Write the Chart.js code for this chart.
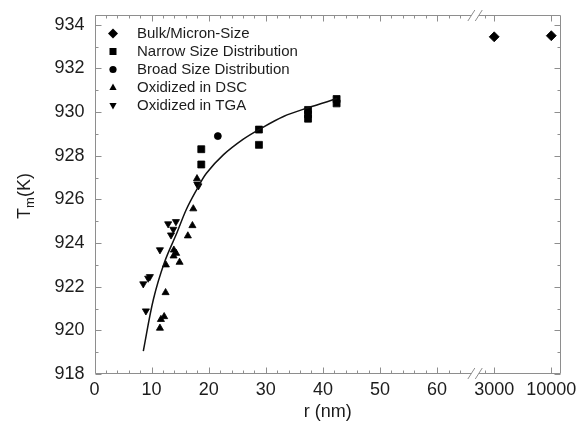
<!DOCTYPE html>
<html><head><meta charset="utf-8">
<script src="https://cdn.jsdelivr.net/npm/chart.js@4/dist/chart.umd.min.js"></script>
<style>html,body{margin:0;padding:0;background:#fff;}canvas{display:block;}</style>
</head><body>
<canvas id="c" width="580" height="427"></canvas>
<script>
// ---- data ----
const bulkR = [3000, 10000];
const bulkT = [933.45, 933.5];
const narrowR = [18.7, 18.7, 28.8, 28.8, 37.4, 37.4, 37.4, 42.4, 42.4];
const narrowT = [928.3, 927.6, 929.2, 928.5, 930.1, 929.9, 929.7, 930.6, 930.4];
const broadR = [21.6];
const broadT = [928.9];
const dscR = [11.46, 11.63, 12.2, 12.45, 12.5, 14.9, 13.85, 14.3, 13.9, 16.35, 17.15, 17.3, 17.95];
const dscT = [920.1, 920.5, 920.63, 921.73, 923.0, 923.12, 923.41, 923.53, 923.68, 924.33, 924.8, 925.57, 926.95];
const tgaR = [8.54, 9.4, 9.7, 9.0, 11.46, 12.9, 14.26, 13.8, 13.4, 18.0, 18.2];
const tgaT = [922.13, 922.39, 922.46, 920.89, 923.69, 924.88, 924.98, 924.63, 924.37, 926.7, 926.62];
const fitR = [8.55, 10.3, 12.3, 14.4, 16.1, 17.9, 19.6, 22.6, 26.0, 28.8, 33.1, 37.4, 42.5];
const fitT = [919.05, 921.4, 923.15, 924.45, 925.55, 926.45, 927.2, 928.05, 928.75, 929.2, 929.8, 930.2, 930.62];
const xTickValues = [0, 10, 20, 30, 40, 50, 60, 3000, 10000];
const xTickLabels = ['0', '10', '20', '30', '40', '50', '60', '3000', '10000'];
const yTickValues = [918, 920, 922, 924, 926, 928, 930, 932, 934];
const legendLabels = ['Bulk/Micron-Size', 'Narrow Size Distribution', 'Broad Size Distribution', 'Oxidized in DSC', 'Oxidized in TGA'];

// broken x axis: linear 0..65 nm, then a compressed log segment for 3000..10000 nm
function xPos(r) {
  if (r <= 65) return r;
  return 70 + (Math.log10(r) - Math.log10(3000)) / (Math.log10(10000) - Math.log10(3000)) * 10;
}
const pts = (R, T) => R.map((r, i) => ({x: xPos(r), y: T[i]}));

const FONT = 'Liberation Sans, Arial, Helvetica, sans-serif';
const TXT = '#1c1c1c';
const FRAME = '#8e8e8e';

function marker(ctx, style, cx, cy) {
  ctx.beginPath();
  if (style === 'diamond') {
    ctx.moveTo(cx, cy - 5); ctx.lineTo(cx + 5, cy); ctx.lineTo(cx, cy + 5); ctx.lineTo(cx - 5, cy);
  } else if (style === 'square') {
    ctx.rect(cx - 3.5, cy - 3.5, 7, 7);
  } else if (style === 'circle') {
    ctx.arc(cx, cy, 3.6, 0, Math.PI * 2);
  } else if (style === 'up') {
    ctx.moveTo(cx, cy - 4); ctx.lineTo(cx + 3.6, cy + 2.6); ctx.lineTo(cx - 3.6, cy + 2.6);
  } else {
    ctx.moveTo(cx, cy + 4); ctx.lineTo(cx + 3.6, cy - 2.6); ctx.lineTo(cx - 3.6, cy - 2.6);
  }
  ctx.closePath(); ctx.fill();
}

const framePlugin = {
  id: 'frame',
  beforeDatasetsDraw(chart) {
    const ctx = chart.ctx, x = chart.scales.x, y = chart.scales.y;
    const {left: L, right: R, top: T, bottom: B} = chart.chartArea;
    const l = Math.round(L) + 0.5, r = Math.round(R) - 0.5, t = Math.round(T) + 0.5, b = Math.round(B) - 0.5;
    const bA = x.getPixelForValue(66.0), bB = x.getPixelForValue(67.3);
    ctx.save();
    ctx.strokeStyle = FRAME; ctx.lineWidth = 1;
    ctx.beginPath();
    ctx.moveTo(l, t); ctx.lineTo(l, b);
    ctx.moveTo(r, t); ctx.lineTo(r, b);
    ctx.moveTo(l, b); ctx.lineTo(bA, b); ctx.moveTo(bB, b); ctx.lineTo(r, b);
    ctx.moveTo(l, t); ctx.lineTo(bA, t); ctx.moveTo(bB, t); ctx.lineTo(r, t);
    // break marks
    [bA, bB].forEach(px => {
      [b, t].forEach(py => { ctx.moveTo(px - 3.5, py + 5.5); ctx.lineTo(px + 3.5, py - 5.5); });
    });
    // y ticks (inward, both sides)
    for (let v = 918; v <= 934; v++) {
      const py = Math.round(y.getPixelForValue(v)) + 0.5;
      const len = v % 2 === 0 ? 6 : 3;
      ctx.moveTo(l, py); ctx.lineTo(l + len, py);
      ctx.moveTo(r, py); ctx.lineTo(r - len, py);
    }
    // x ticks, left segment
    for (let v = 0; v <= 64; v += 2) {
      const px = Math.round(x.getPixelForValue(v)) + 0.5;
      const len = v % 10 === 0 ? 6 : 3;
      ctx.moveTo(px, b); ctx.lineTo(px, b - len);
      ctx.moveTo(px, t); ctx.lineTo(px, t + len);
    }
    // x ticks, right segment
    [[68.4, 3], [xPos(3000), 6], [xPos(10000), 6]].forEach(([v, len]) => {
      const px = Math.round(x.getPixelForValue(v)) + 0.5;
      ctx.moveTo(px, b); ctx.lineTo(px, b - len);
      ctx.moveTo(px, t); ctx.lineTo(px, t + len);
    });
    ctx.stroke();
    ctx.restore();
  },
  afterDraw(chart) {
    const ctx = chart.ctx;
    ctx.save();
    // legend
    const styles = ['diamond', 'square', 'circle', 'up', 'down'];
    ctx.font = '15px ' + FONT;
    ctx.textBaseline = 'middle';
    legendLabels.forEach((lab, i) => {
      const cy = 33.5 + i * 18;
      ctx.fillStyle = '#000';
      marker(ctx, styles[i], 113, cy);
      ctx.fillStyle = TXT;
      ctx.fillText(lab, 137, cy + 0.5);
    });
    // y-axis title with subscript
    ctx.translate(24, 196);
    ctx.rotate(-Math.PI / 2);
    ctx.fillStyle = TXT;
    ctx.textBaseline = 'alphabetic';
    const big = '18px ' + FONT, small = '13px ' + FONT;
    ctx.font = big; const wT = ctx.measureText('T').width; const wK = ctx.measureText('(K)').width;
    ctx.font = small; const wm = ctx.measureText('m').width;
    let x0 = -(wT + wm + wK) / 2;
    ctx.font = big; ctx.fillText('T', x0, 6);
    ctx.font = small; ctx.fillText('m', x0 + wT, 10);
    ctx.font = big; ctx.fillText('(K)', x0 + wT + wm, 6);
    ctx.restore();
  }
};

const mk = (label, data, style, radius, rotation) => ({
  label, data, pointStyle: style, pointRadius: radius, pointRotation: rotation || 0,
  backgroundColor: '#000', borderColor: '#000', pointBorderWidth: 0.8, showLine: false
});

new Chart(document.getElementById('c'), {
  type: 'scatter',
  data: {
    datasets: [
      {label: 'fit', data: pts(fitR, fitT), showLine: true, pointRadius: 0, borderColor: '#111',
       borderWidth: 1.5, tension: 0.35, fill: false},
      mk(legendLabels[0], pts(bulkR, bulkT), 'rectRot', 5),
      mk(legendLabels[1], pts(narrowR, narrowT), 'rect', 4.9),
      mk(legendLabels[2], pts(broadR, broadT), 'circle', 3.5),
      mk(legendLabels[3], pts(dscR, dscT), 'triangle', 4.1),
      mk(legendLabels[4], pts(tgaR, tgaT), 'triangle', 4.1, 180)
    ]
  },
  options: {
    responsive: false, animation: false, devicePixelRatio: 1, events: [],
    layout: {padding: {left: 0, right: 19, top: 15, bottom: 0}},
    plugins: {legend: {display: false}, tooltip: {enabled: false}},
    scales: {
      x: {
        type: 'linear', min: 0, max: 81.7,
        grid: {display: false, drawTicks: false}, border: {display: false},
        afterBuildTicks: s => { s.ticks = xTickValues.map(v => ({value: xPos(v)})); },
        afterFit: s => { s.height = 53; s.paddingLeft = 0; s.paddingRight = 0; },
        ticks: {padding: 5, maxRotation: 0, autoSkip: false, color: TXT, font: {family: FONT, size: 18},
                callback: (v, i) => xTickLabels[i]},
        title: {display: true, text: 'r (nm)', color: TXT, font: {family: FONT, size: 18}, padding: {top: 0, bottom: 4}}
      },
      y: {
        type: 'linear', min: 918, max: 934.45,
        grid: {display: false, drawTicks: false}, border: {display: false},
        afterBuildTicks: s => { s.ticks = yTickValues.map(v => ({value: v})); },
        afterFit: s => { s.width = 94.5; s.paddingTop = 0; s.paddingBottom = 0; },
        ticks: {padding: 10, color: TXT, font: {family: FONT, size: 18}, callback: v => String(v)}
      }
    }
  },
  plugins: [framePlugin]
});
</script>
</body></html>
